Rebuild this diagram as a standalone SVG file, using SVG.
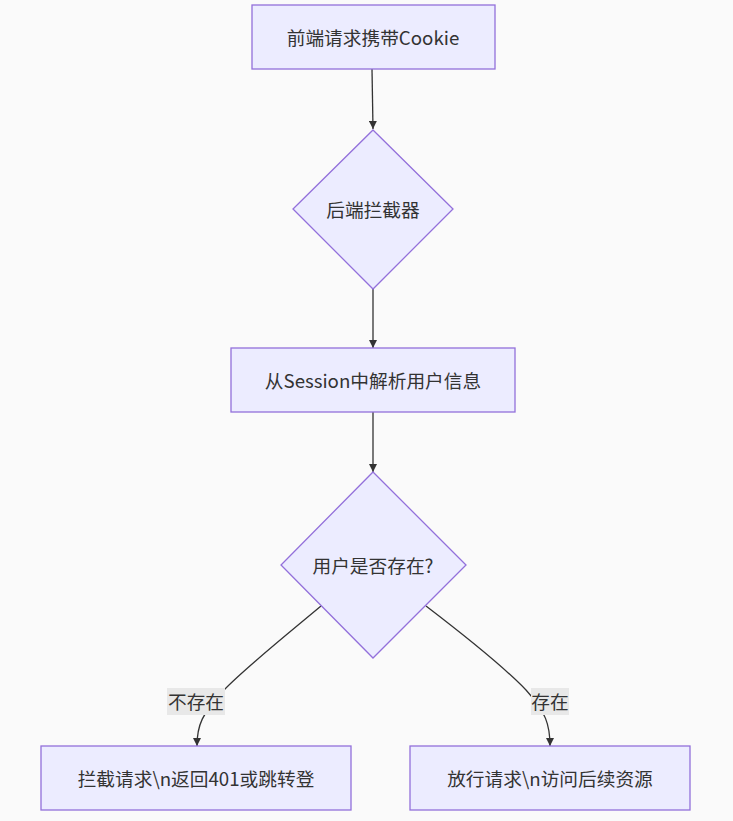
<svg xmlns="http://www.w3.org/2000/svg" width="733" height="821" viewBox="0 0 733 821">
<style>
.node{fill:#ECECFF;stroke:#9370DB;stroke-width:1.3}
.lbl{font-family:"Noto Sans CJK SC","Liberation Sans",sans-serif;font-size:18.7px;fill:#333;text-anchor:middle;dominant-baseline:central}
.edge{fill:none;stroke:#333;stroke-width:1.3}
.elbg{fill:#E8E8E8}
</style>
<defs>
<marker id="arr" viewBox="0 0 10 10" refX="10" refY="5" markerWidth="8" markerHeight="8" markerUnits="userSpaceOnUse" orient="auto">
<path d="M0,0 L10,5 L0,10 z" fill="#333"/>
</marker>
</defs>
<rect width="733" height="821" fill="#FAFAFA"/>
<g id="connectors">
<path class="edge" d="M372,69 L373,129" marker-end="url(#arr)"/>
<path class="edge" d="M373,289 L373,348" marker-end="url(#arr)"/>
<path class="edge" d="M373,412 L373,472" marker-end="url(#arr)"/>
<path class="edge" d="M321,606 C290,632 245,668 224,690 C202,714 197,725 197,746" marker-end="url(#arr)"/>
<path class="edge" d="M426,606 C460,632 505,668 526,690 C546,712 550,725 550,746" marker-end="url(#arr)"/>
<rect class="elbg" x="167" y="688" width="58" height="27"/>
<text class="lbl" x="196" y="700">不存在</text>
<rect class="elbg" x="531" y="688" width="38" height="27"/>
<text class="lbl" x="550" y="700">存在</text>
</g>
<g id="n1">
<rect class="node" x="252" y="5" width="243" height="64"/>
<text class="lbl" x="373" y="36">前端请求携带Cookie</text>
</g>
<g id="n2">
<polygon class="node" points="373,130 453,209 373,289 293,209"/>
<text class="lbl" x="373" y="208">后端拦截器</text>
</g>
<g id="n3">
<rect class="node" x="231" y="348" width="284" height="64"/>
<text class="lbl" x="373" y="379">从Session中解析用户信息</text>
</g>
<g id="n4">
<polygon class="node" points="373,472 466,565 373,658 281,565"/>
<text class="lbl" x="373" y="564">用户是否存在?</text>
</g>
<g id="n5">
<rect class="node" x="41" y="746" width="310" height="64"/>
<text class="lbl" x="196" y="777">拦截请求\n返回401或跳转登</text>
</g>
<g id="n6">
<rect class="node" x="410" y="746" width="280" height="64"/>
<text class="lbl" x="550" y="777">放行请求\n访问后续资源</text>
</g>
</svg>
